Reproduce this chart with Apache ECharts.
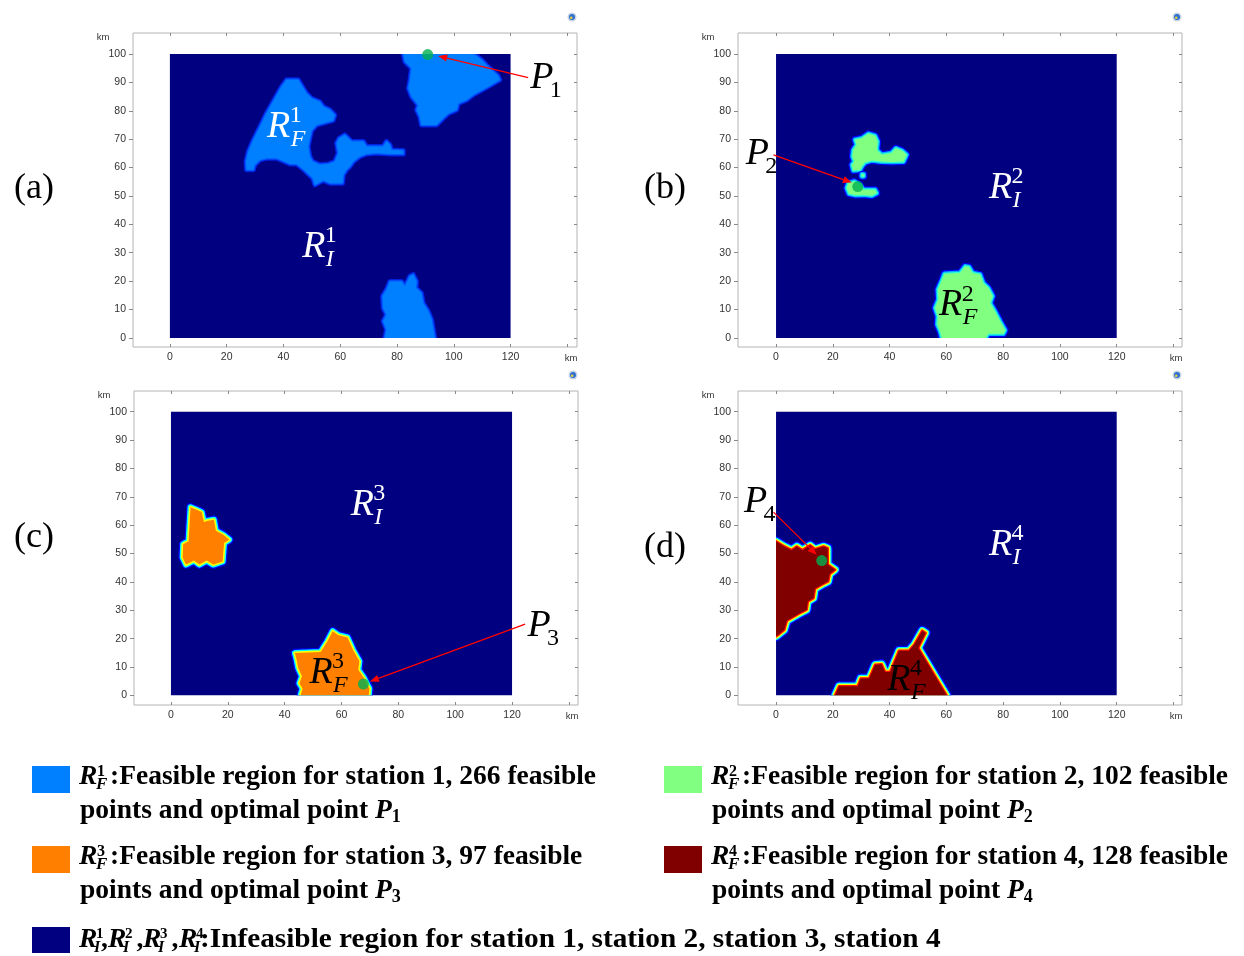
<!DOCTYPE html>
<html><head><meta charset="utf-8">
<script src="https://cdn.jsdelivr.net/npm/echarts@6/dist/echarts.min.js"></script>
<style>html,body{margin:0;padding:0;background:#fff}#c{width:1244px;height:956px}</style>
</head><body><div id="c"></div>
<script>
// ---------------- data ----------------
const xTickValues = [0, 20, 40, 60, 80, 100, 120, 140];
const xLabelValues = [0, 20, 40, 60, 80, 100, 120];
const yTickValues = [0, 10, 20, 30, 40, 50, 60, 70, 80, 90, 100];
const panelNames = ['(a)', '(b)', '(c)', '(d)'];
const feasibleCounts = [266, 102, 97, 128];

// feasible-region outlines (km)
const regionsA = [
  [[82.2,100],[82.8,97.3],[85.1,95],[84.5,90.3],[84,87.9],[85.1,85],[87.5,82],[86.9,80.3],[88,78],[88.6,75],[93.9,75],[96.3,77.4],[98,79],[101,80.3],[101.6,82.6],[104.5,83.8],[106.8,85.6],[112.1,88.5],[116.2,90.9],[115.6,92.3],[111.5,96.1],[109.8,97.9],[108,99.3],[106.8,100]],
  [[41.1,90.9],[45.2,90.9],[48.1,86.2],[49.9,84.4],[52.8,83.2],[54,81.5],[56.4,80.3],[58.1,78.5],[57.5,76.6],[54.6,75.8],[51.7,75],[49.9,73],[49.3,70.3],[48.7,67.4],[49.3,63.9],[50.3,62.1],[52.8,61],[55.8,61.3],[58.1,62.1],[59.3,65.1],[58.7,68.6],[59.6,70.3],[61.6,71.5],[64,69.2],[68.1,69.2],[69.3,67.4],[75.1,67.4],[76.3,69.2],[77.5,68],[78.1,66.2],[82.2,66],[82.2,64.8],[77.5,64.8],[72.8,65.1],[69.3,64.8],[66.9,63.9],[64.6,62.1],[63.4,60.4],[62.2,59.2],[61.1,57.4],[60.8,54.5],[56.4,54.5],[54,55.5],[52.2,54.5],[51.1,53.9],[50.3,56.3],[48.7,57.8],[47,59.4],[44.6,61.3],[42.3,61.3],[37.6,63.3],[34,63.3],[31.7,62.7],[29.9,61],[29.4,59.2],[27,59.2],[26.8,62.1],[27.6,65.6],[29.4,69.8],[31.7,74.4],[34,79.1],[37,84.4],[39.3,88.5]],
  [[77.5,19.9],[81.6,19.9],[82.8,18.2],[84.5,21.7],[85.7,22.3],[86.9,19.9],[86.7,17.6],[88.6,15.8],[89.2,12.3],[91,9.4],[92.2,6.4],[93.3,0],[75.7,0],[76.3,2.9],[75.1,5.9],[76.3,8.2],[75.1,10.6],[74.9,14.7],[76.3,17]]
];
const regionsB = [
  [[27.8,69.8],[30.2,70.3],[32.5,71.9],[34.9,71.2],[35.8,69.2],[35.5,66.2],[37.2,64.5],[40.7,65.1],[42.2,66.8],[44.3,66],[46,64.5],[44.9,62.1],[40.7,62],[37.2,62.1],[33.7,62.5],[31.3,61.8],[30.2,60.4],[29.6,59.2],[27.2,59],[26.7,61],[27.6,62.1],[26.9,63.9],[27.2,66.2],[28.4,68]],
  [[25.5,54.5],[27.6,55.1],[29.6,53.9],[30.8,52.2],[34.9,52.2],[35.5,51],[33.7,50.1],[30.8,50.4],[27.8,50.3],[25.7,50.8],[24.9,52.8]],
  [[30.2,57.6],[30.9,57.6],[30.9,56.9],[30.2,56.9]],
  [[66.6,25.2],[68,25],[69.2,22.9],[71.9,22.3],[73,19.3],[74.8,17.6],[76.3,14.7],[75.4,12.3],[77.1,9.4],[78.9,5.9],[80.7,2.7],[80.1,1.5],[74.8,1.5],[73.9,0],[58.4,0],[57.8,2.3],[56.8,4.7],[57,7.6],[56,10.6],[57.2,13.5],[57,17],[58.4,20.3],[59.3,22.6],[64.8,22.9]]
];
const regionsC = [
  [[6.9,66.3],[8.8,65.5],[10.8,64.6],[11.6,61.1],[13.1,61.6],[15.1,61.9],[15.8,58],[18.4,56.6],[20.5,54.9],[18.7,53.7],[18.4,50.2],[18.2,47.2],[14.9,46.1],[12.6,47.5],[10,46.1],[8.1,47.5],[5.3,46.1],[4.1,48.6],[4.3,53.3],[6.2,54.3]],
  [[43.6,14.9],[52.7,15.3],[55,19],[56.9,22.6],[58.9,21.2],[62.1,20.4],[64.2,15.7],[66.3,12],[65.9,9],[67.9,6.1],[69.8,2.4],[69.6,0],[45.6,0],[46.3,2.4],[45.2,4.3],[46.1,6.7],[44.8,9.6],[44.2,12.6]]
];
const regionsD = [
  [[0,54.3],[2.9,52.5],[5.5,51.2],[7.3,52.5],[9.3,51.2],[12,52.9],[13.7,51.5],[16.7,52.5],[18.2,51.9],[18.2,46.1],[20.8,44.3],[18.9,42.8],[18.4,40.2],[16.1,39],[13.7,37.6],[13.2,34.3],[11.2,33.1],[10.8,30.2],[7.9,28.7],[3.8,26.3],[2.9,23.1],[0.8,21.4],[0,20.8]],
  [[20.8,0],[22.2,3.2],[28.8,3.2],[29.8,5.9],[32.8,5.9],[34.9,10.8],[37.2,11],[38.4,8.2],[40.2,8.2],[43.3,15.7],[46.8,15.7],[48.7,17.9],[51.5,22.8],[52.7,22],[50.1,16.7],[60.1,0]]
];
const optimalPoints = [[90.8, 99.8], [28.8, 53.3], [67.7, 4.0], [16.1, 47.5]];
const arrowStarts = [[126.2, 91.7], [-0.9, 64.5], [124.6, 25.1], [-0.9, 64.6]];
const arrowEnds = [[94.5, 99.3], [26.7, 54.7], [70.0, 4.9], [14.3, 49.6]];
// [x, y, base, superscript, subscript]
const labelsA = [[38.3, 74.4, 'R', '1', 'F'], [50.7, 32, 'R', '1', 'I'], [131, 91.6, 'P', '', '1']];
const labelsB = [[61.5, 11.5, 'R', '2', 'F'], [79.1, 52.8, 'R', '2', 'I'], [-6.6, 64.8, 'P', '', '2']];
const labelsC = [[52.8, 7.9, 'R', '3', 'F'], [67.3, 67.2, 'R', '3', 'I'], [129.5, 24.3, 'P', '', '3']];
const labelsD = [[43.3, 5.5, 'R', '4', 'F'], [79.1, 53.1, 'R', '4', 'I'], [-7.2, 68.2, 'P', '', '4']];

// ---------------- styles / layout ----------------
const regionSets = [regionsA, regionsB, regionsC, regionsD];
const labelSets = [labelsA, labelsB, labelsC, labelsD];
const navy = '#000080';
const fills = ['#0080ff', '#80ff80', '#ff8000', '#800000'];
const rfColors = ['#ffffff', '#000000', '#000000', '#000000'];
const edgeStyles = [
  [['#0020e0', 5], ['#0058ff', 2.5]],
  [['#0000ff', 7], ['#00b0ff', 4.6], ['#30ffd0', 2.2]],
  [['#0000ff', 8.5], ['#00ffff', 6], ['#ffff00', 3.2]],
  [['#0000ff', 10], ['#00ffff', 7.5], ['#ffff00', 5], ['#ff1000', 2.5]]
];
const grids = [
  {left: 133, top: 33, width: 444, height: 314, xMin: -13, xMax: 143.4, yMin: -3.2, yMax: 107.4},
  {left: 738, top: 33, width: 444, height: 314, xMin: -13.4, xMax: 143.0, yMin: -3.2, yMax: 107.4},
  {left: 134, top: 391, width: 444, height: 314, xMin: -13, xMax: 143.2, yMin: -3.4, yMax: 107.3},
  {left: 738, top: 391, width: 444, height: 314, xMin: -13.4, xMax: 143.0, yMin: -3.4, yMax: 107.3}
];
const panelLabelPos = [[34, 189], [665, 189], [34, 538], [665, 548]];
const tickColor = '#8a8a8a';
const axisFont = 'Liberation Sans';

function mt(x, y, text, size, fstyle, color, align) {
  return {type: 'text', x: x, y: y, silent: true,
    style: {text: text, fill: color, fontFamily: 'Liberation Serif', fontSize: size, fontStyle: fstyle,
      align: align, textAlign: align, verticalAlign: 'middle', textVerticalAlign: 'middle'}};
}

function bgRenderer() {
  return function (params, api) {
    const tl = api.coord([0, 100]), br = api.coord([120, 0]);
    return {type: 'rect', shape: {x: tl[0], y: tl[1], width: br[0] - tl[0], height: br[1] - tl[1]}, style: {fill: navy}};
  };
}
function regionRenderer(k) {
  return function (params, api) {
    const poly = regionSets[k][api.value(0)];
    const pts = poly.map(p => api.coord(p));
    const tl = api.coord([0, 100]), br = api.coord([120, 0]);
    const children = edgeStyles[k].map(e => ({type: 'polygon', shape: {points: pts},
      style: {fill: 'none', stroke: e[0], lineWidth: e[1], lineJoin: 'round'}}));
    children.push({type: 'polygon', shape: {points: pts}, style: {fill: fills[k], stroke: 'none'}});
    return {type: 'group', children: children,
      clipPath: {type: 'rect', shape: {x: tl[0], y: tl[1], width: br[0] - tl[0], height: br[1] - tl[1]}}};
  };
}
function arrowRenderer(k) {
  return function (params, api) {
    const a = api.coord(arrowStarts[k]), b = api.coord(arrowEnds[k]);
    const dx = b[0] - a[0], dy = b[1] - a[1], len = Math.hypot(dx, dy);
    const ux = dx / len, uy = dy / len, hl = 9, hw = 3.6;
    const bs = [b[0] - ux * hl, b[1] - uy * hl];
    return {type: 'group', children: [
      {type: 'line', shape: {x1: a[0], y1: a[1], x2: bs[0], y2: bs[1]}, style: {stroke: '#ff0000', lineWidth: 1.3}},
      {type: 'polygon', shape: {points: [b, [bs[0] - uy * hw, bs[1] + ux * hw], [bs[0] + uy * hw, bs[1] - ux * hw]]}, style: {fill: '#ff0000'}}
    ]};
  };
}
function labelRenderer(k) {
  return function (params, api) {
    const L = labelSets[k][params.dataIndex];
    const c = api.coord([L[0], L[1]]);
    const base = L[2], sup = L[3], sub = L[4];
    const color = base === 'P' ? '#000000' : (sub === 'I' ? '#ffffff' : rfColors[k]);
    const ch = [mt(c[0], c[1], base, 38, 'italic', color, 'center')];
    if (sup) ch.push(mt(c[0] + 11, c[1] - 11, sup, 24, 'normal', color, 'left'));
    if (sub) {
      const isDigit = /\d/.test(sub);
      ch.push(mt(c[0] + (base === 'P' ? 8 : 12), c[1] + 12.5, sub, 24, isDigit ? 'normal' : 'italic', color, 'left'));
    }
    return {type: 'group', children: ch};
  };
}

const option = {animation: false, grid: [], xAxis: [], yAxis: [], series: [], graphic: []};
grids.forEach((g, k) => {
  option.grid.push({left: g.left, top: g.top, width: g.width, height: g.height, show: true,
    borderColor: '#b4b4b4', borderWidth: 1, backgroundColor: 'transparent'});
  const labelStyle = {color: '#333', fontSize: 10.5, fontFamily: axisFont};
  const noLine = {show: false, onZero: false};
  option.xAxis.push({type: 'value', gridIndex: k, min: g.xMin, max: g.xMax, position: 'bottom',
    axisLine: noLine, splitLine: {show: false},
    axisTick: {show: true, inside: true, length: 3, customValues: xTickValues, lineStyle: {color: tickColor}},
    axisLabel: Object.assign({customValues: xLabelValues, margin: 5}, labelStyle)});
  option.xAxis.push({type: 'value', gridIndex: k, min: g.xMin, max: g.xMax, position: 'top',
    axisLine: noLine, splitLine: {show: false}, axisLabel: {show: false},
    axisTick: {show: true, inside: true, length: 3, customValues: xTickValues, lineStyle: {color: tickColor}}});
  option.yAxis.push({type: 'value', gridIndex: k, min: g.yMin, max: g.yMax, position: 'left',
    axisLine: noLine, splitLine: {show: false},
    axisTick: {show: true, inside: false, length: 4, customValues: yTickValues, lineStyle: {color: tickColor}},
    axisLabel: Object.assign({customValues: yTickValues, margin: 7}, labelStyle)});
  option.yAxis.push({type: 'value', gridIndex: k, min: g.yMin, max: g.yMax, position: 'right',
    axisLine: noLine, splitLine: {show: false}, axisLabel: {show: false},
    axisTick: {show: true, inside: true, length: 3, customValues: yTickValues, lineStyle: {color: tickColor}}});
  const xi = 2 * k, yi = 2 * k;
  option.series.push({type: 'custom', xAxisIndex: xi, yAxisIndex: yi, z: 1, silent: true,
    renderItem: bgRenderer(), data: [[0, 0]]});
  option.series.push({type: 'custom', xAxisIndex: xi, yAxisIndex: yi, z: 2, silent: true,
    renderItem: regionRenderer(k), data: regionSets[k].map((p, i) => [i, 0])});
  option.series.push({type: 'scatter', xAxisIndex: xi, yAxisIndex: yi, z: 4, silent: true, clip: false,
    symbolSize: 11, itemStyle: {color: '#00b050'}, data: [optimalPoints[k]]});
  option.series.push({type: 'custom', xAxisIndex: xi, yAxisIndex: yi, z: 5, silent: true,
    renderItem: arrowRenderer(k), data: [[0, 0]]});
  option.series.push({type: 'custom', xAxisIndex: xi, yAxisIndex: yi, z: 6, silent: true,
    renderItem: labelRenderer(k), data: labelSets[k].map(l => [l[0], l[1]])});
  // units, icon and panel label
  option.graphic.push({type: 'text', x: g.left - 30, y: g.top + 4, silent: true,
    style: {text: 'km', fill: '#333', fontFamily: axisFont, fontSize: 9.5, align: 'center', verticalAlign: 'middle', textAlign: 'center', textVerticalAlign: 'middle'}});
  option.graphic.push({type: 'text', x: g.left + g.width - 6, y: g.top + g.height + 11, silent: true,
    style: {text: 'km', fill: '#333', fontFamily: axisFont, fontSize: 9.5, align: 'center', verticalAlign: 'middle', textAlign: 'center', textVerticalAlign: 'middle'}});
  option.graphic.push({type: 'circle', shape: {cx: g.left + g.width - 5, cy: g.top - 16, r: 4.5}, silent: true,
    style: {fill: '#c8d4e4'}});
  option.graphic.push({type: 'circle', shape: {cx: g.left + g.width - 5, cy: g.top - 16, r: 3}, silent: true,
    style: {fill: '#2f6fd0'}});
  option.graphic.push({type: 'circle', shape: {cx: g.left + g.width - 5.8, cy: g.top - 15.2, r: 1.3}, silent: true,
    style: {fill: '#e8d040'}});
  option.graphic.push({type: 'text', x: panelLabelPos[k][0], y: panelLabelPos[k][1], silent: true,
    style: {text: panelNames[k], fill: '#000', fontFamily: 'Liberation Serif', fontSize: 36,
      align: 'center', verticalAlign: 'middle', textAlign: 'center', textVerticalAlign: 'middle'}});
});

// ---------------- legend ----------------
function lt(x, y, text, size, extra, el) {
  return Object.assign({type: 'text', x: x, y: y, silent: true,
    style: Object.assign({text: text, fill: '#000', fontFamily: 'Liberation Serif', fontSize: size, fontWeight: 'bold',
      align: 'left', textAlign: 'left', verticalAlign: 'middle', textVerticalAlign: 'middle'}, extra || {})}, el || {});
}
const legendCols = [32, 664];
const legendRows = [766, 846];
const LF = 27.5;
for (let k = 0; k < 4; k++) {
  const sx = legendCols[k % 2], sy = legendRows[Math.floor(k / 2)];
  const tx = sx + 47, c1 = sy + 11, c2 = sy + 44.5;
  option.graphic.push({type: 'rect', silent: true, shape: {x: sx, y: sy, width: 38, height: 27}, style: {fill: fills[k]}});
  option.graphic.push(lt(tx, c1, 'R', LF, {fontStyle: 'italic'}));
  option.graphic.push(lt(tx + 18, c1 - 5.5, String(k + 1), 16));
  option.graphic.push(lt(tx + 17, c1 + 8, 'F', 17, {fontStyle: 'italic'}));
  option.graphic.push(lt(tx + 31, c1, ':Feasible region for station ' + (k + 1) + ', ' + feasibleCounts[k] + ' feasible', LF));
  option.graphic.push(lt(tx + 1, c2, '{n|points and optimal point }{p|P}{s|' + (k + 1) + '}', LF, {
    rich: {
      n: {fontFamily: 'Liberation Serif', fontWeight: 'bold', fontSize: LF, lineHeight: 32, fill: '#000'},
      p: {fontFamily: 'Liberation Serif', fontWeight: 'bold', fontStyle: 'italic', fontSize: LF, lineHeight: 32, fill: '#000'},
      s: {fontFamily: 'Liberation Serif', fontWeight: 'bold', fontSize: 18, lineHeight: 18, verticalAlign: 'bottom', fill: '#000'}
    }}));
}
// infeasible legend row
const infY = 927, infC = 940;
option.graphic.push({type: 'rect', silent: true, shape: {x: 32, y: infY, width: 38, height: 26}, style: {fill: navy}});
const rXs = [79, 108, 143, 179];
const commaXs = [101, 136.5, 171.5];
rXs.forEach((x, i) => {
  option.graphic.push(lt(x, infC, 'R', LF, {fontStyle: 'italic'}));
  option.graphic.push(lt(x + 17, infC - 5.5, String(i + 1), 15));
  option.graphic.push(lt(x + 15, infC + 7.5, 'I', 16, {fontStyle: 'italic'}));
  if (i < 3) option.graphic.push(lt(commaXs[i], infC, ',', LF));
});
option.graphic.push(lt(200, infC, ':Infeasible region for station 1, station 2, station 3, station 4', LF, {}, {scaleX: 1.065, scaleY: 1, originX: 0, originY: 0}));

const chart = echarts.init(document.getElementById('c'));
chart.setOption(option);
</script></body></html>
